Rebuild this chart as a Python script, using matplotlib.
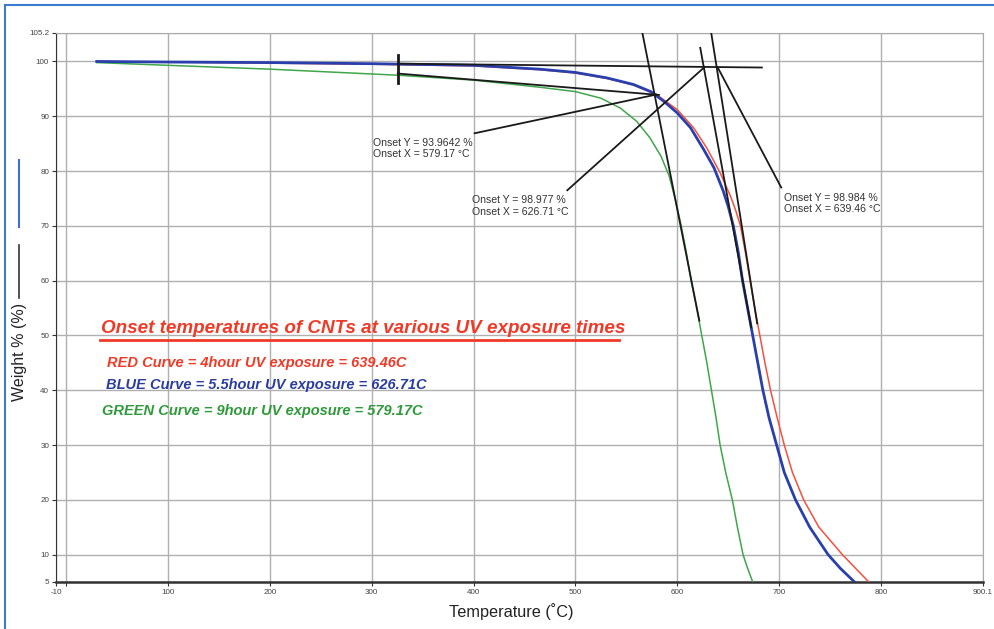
import matplotlib
matplotlib.use("Agg")
from matplotlib import pyplot as plt
from matplotlib.lines import Line2D

plt.rcParams['font.family'] = ['Liberation Sans', 'DejaVu Sans']

# TGA curves (temperature in C, weight in %)
red_x = [30, 100, 200, 300, 400, 465, 500, 531, 557, 580, 600, 616, 629, 642, 652, 657, 662, 667, 671.5, 676, 681, 686, 691.5, 698, 705, 713, 724, 739, 762, 775, 788]
red_y = [100, 99.9, 99.7, 99.5, 99.2, 98.5, 97.9, 96.9, 95.7, 93.9, 91.2, 87.9, 84.2, 79.7, 75.5, 73, 70, 65, 60, 55, 50, 45, 40, 35, 30, 25, 20, 15, 10, 7.5, 5]

blue_x = [30, 100, 200, 300, 400, 465, 500, 531, 557, 574, 587, 600, 613, 626, 636, 645, 650, 655, 660, 664, 669, 674, 679, 684, 690, 697.5, 705, 716, 730, 748, 760, 774]
blue_y = [100, 99.9, 99.8, 99.6, 99.3, 98.6, 98.0, 97.0, 95.8, 94.5, 92.7, 90.6, 87.9, 83.9, 80.6, 76.4, 73.5, 70, 65, 60, 55, 50, 45, 40, 35, 30, 25, 20, 15, 10, 7.5, 5]

green_x = [30, 100, 200, 325, 400, 465, 500, 525, 544, 560, 573, 584, 592, 598, 603.5, 609, 613.5, 619, 624, 629, 633.5, 638, 642, 647.5, 654, 659, 664.5, 669, 674]
green_y = [99.8, 99.3, 98.6, 97.5, 96.6, 95.3, 94.5, 93.3, 91.5, 89.1, 86.1, 82.7, 79.1, 74.8, 70.3, 65, 60, 55, 50, 45, 40, 35, 30, 25, 20, 15, 10, 7.5, 5]

# onset construction lines (start, end)
baseline_rb = [(325.5, 99.6), (683, 98.9)]
baseline_g = [(325.5, 97.8), (582, 93.9)]
steep_g = [(565.7, 105.2), (621.6, 52.7)]
steep_b = [(622.5, 102.5), (672.5, 51.5)]
steep_r = [(633.3, 105.2), (678.4, 52.2)]
marker_v = [(325.5, 101.1), (325.5, 96.0)]

onsets = {
    'green': (579.17, 93.96, "Onset Y = 93.9642 %\nOnset X = 579.17 \u00b0C", (301, 84.1), (401, 86.9)),
    'blue': (626.71, 98.98, "Onset Y = 98.977 %\nOnset X = 626.71 \u00b0C", (398, 73.6), (492, 76.5)),
    'red': (639.46, 98.98, "Onset Y = 98.984 %\nOnset X = 639.46 \u00b0C", (705, 74.1), (702, 77.0)),
}

x_ticks = [-10, 0, 100, 200, 300, 400, 500, 600, 700, 800, 900.1]
x_labels = ['-10', '', '100', '200', '300', '400', '500', '600', '700', '800', '900.1']
y_ticks = [5, 10, 20, 30, 40, 50, 60, 70, 80, 90, 100, 105.2]
y_labels = ['5', '10', '20', '30', '40', '50', '60', '70', '80', '90', '100', '105.2']

red_c = '#f5503e'
blue_c = '#2a3fae'
green_c = '#3fa64a'

fig = plt.figure(figsize=(9.95, 6.29), dpi=100)
ax = fig.add_axes([56/995, 1-582/629, (983-56)/995, (582-33)/629])

ax.plot(red_x, red_y, color=red_c, lw=1.1, zorder=3)
ax.plot(blue_x, blue_y, color=blue_c, lw=2.0, zorder=4)
ax.plot(green_x, green_y, color=green_c, lw=1.1, zorder=3)

for seg in [baseline_rb, baseline_g, steep_g, steep_b, steep_r]:
    ax.plot([seg[0][0], seg[1][0]], [seg[0][1], seg[1][1]], color='#1a1a1a', lw=1.3, zorder=5)
ax.plot([marker_v[0][0], marker_v[1][0]], [marker_v[0][1], marker_v[1][1]], color='#1a1a1a', lw=2, zorder=5)

for key, (ox, oy, txt, tpos, lstart) in onsets.items():
    ax.plot([lstart[0], ox], [lstart[1], oy], color='#1a1a1a', lw=1.3, zorder=5)
    ax.text(tpos[0], tpos[1], txt, fontsize=7.6, color='#333333', ha='left', va='center',
            linespacing=1.2, zorder=6)

# headline and curve key
ax.text(34, 51.3, "Onset temperatures of CNTs at various UV exposure times", color='#f03a28',
        fontsize=13.6, fontweight='bold', fontstyle='italic', ha='left', va='center', zorder=6)
ax.plot([33, 543], [49.1, 49.1], color='#f03a28', lw=2, zorder=6)
ax.text(40, 44.9, "RED Curve = 4hour UV exposure = 639.46C", color='#f03a28',
        fontsize=10.5, fontweight='bold', fontstyle='italic', ha='left', va='center', zorder=6)
ax.text(39, 40.9, "BLUE Curve = 5.5hour UV exposure = 626.71C", color='#2b3d9e',
        fontsize=10.5, fontweight='bold', fontstyle='italic', ha='left', va='center', zorder=6)
ax.text(35, 36.3, "GREEN Curve = 9hour UV exposure = 579.17C", color='#2e9a3a',
        fontsize=10.5, fontweight='bold', fontstyle='italic', ha='left', va='center', zorder=6)

ax.set_xlim(-10, 900.1)
ax.set_ylim(5, 105.2)
ax.set_xticks(x_ticks)
ax.set_xticklabels(x_labels)
ax.set_yticks(y_ticks)
ax.set_yticklabels(y_labels)
ax.tick_params(labelsize=5.8, labelcolor='#444444', length=3, width=0.8, color='#333333', pad=2)
ax.grid(True, color='#b0b0b0', lw=1)
ax.set_axisbelow(True)

ax.spines['left'].set_color('#333333')
ax.spines['bottom'].set_color('#333333')
ax.spines['bottom'].set_linewidth(1.8)
ax.spines['top'].set_color('#aaaaaa')
ax.spines['right'].set_color('#aaaaaa')

fig.text(511/995, 1-612/629, "Temperature (\u02daC)", fontsize=11.7, color='#222222',
         ha='center', va='center')
fig.text(20/995, 1-352/629, "Weight % (%)", rotation=90, fontsize=11.5, color='#222222',
         ha='center', va='center')

# little key marks next to the y label
fig.add_artist(Line2D([19/995, 19/995], [1-160/629, 1-227/629], color='#3f6fd0', lw=1.5))
fig.add_artist(Line2D([19/995, 19/995], [1-245/629, 1-298/629], color='#333333', lw=1.2))

# blue frame of the picture
fig.add_artist(Line2D([5/995, 5/995], [0, 1-5/629], color='#3a7dd0', lw=1.5))
fig.add_artist(Line2D([5/995, 1], [1-5/629, 1-5/629], color='#3a7dd0', lw=1.5))

fig.savefig("out.png", dpi=100)
